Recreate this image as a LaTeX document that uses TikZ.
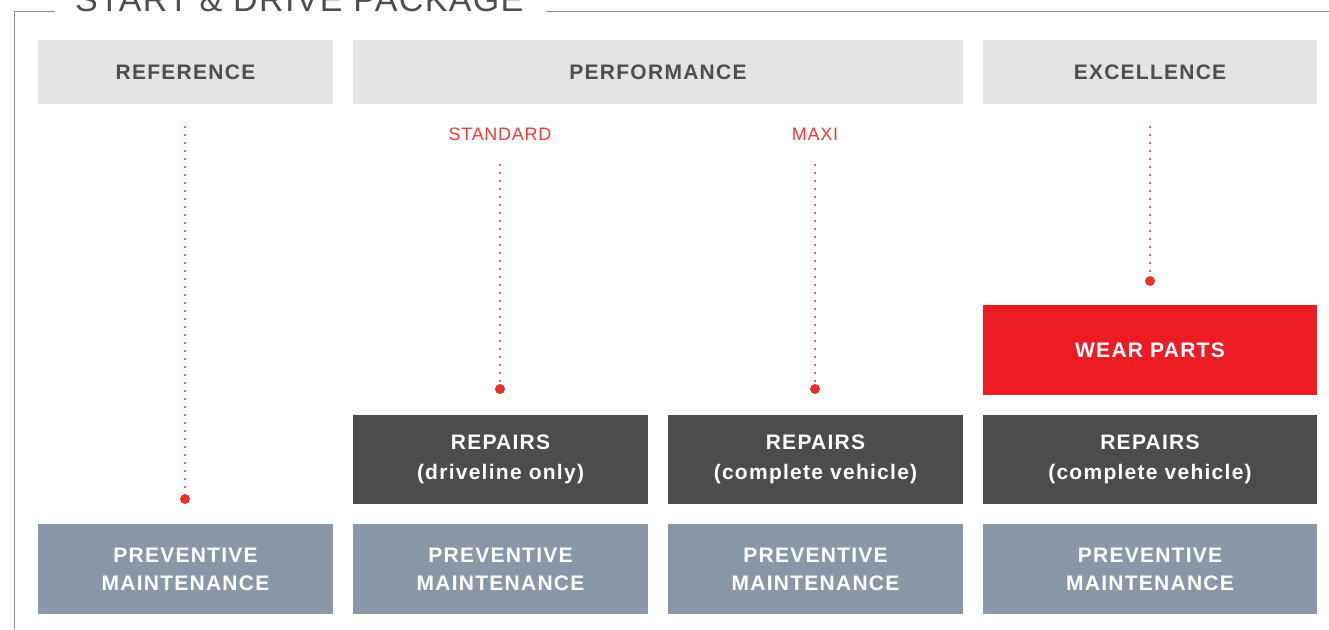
\documentclass[tikz,border=0pt]{standalone}
\usepackage{fontspec}
\setmainfont{Liberation Sans}
\newfontfamily\boxfont[LetterSpace=6]{Liberation Sans}
\newfontfamily\labelfont[LetterSpace=4]{Liberation Sans}
\newfontfamily\titlefont[LetterSpace=4]{Liberation Sans}

\definecolor{headgray}{HTML}{E3E4E6}
\definecolor{headtext}{HTML}{4D4E50}
\definecolor{wearred}{HTML}{ED1C24}
\definecolor{labelred}{HTML}{EE3B39}
\definecolor{dotred}{HTML}{E8312A}
\definecolor{repairgray}{HTML}{4B4C4E}
\definecolor{prevblue}{HTML}{8A97A8}
\definecolor{framegray}{HTML}{8C8C8C}

\tikzset{
	head/.style = {fill=headgray, minimum height=64pt, inner sep=0pt, text=headtext,
		font=\boxfont\bfseries\fontsize{21}{25}\selectfont},
	prevbox/.style = {fill=prevblue, minimum width=295pt, minimum height=90pt, inner sep=0pt,
		text=white, align=center, font=\boxfont\bfseries\fontsize{21}{28}\selectfont},
	repbox/.style = {fill=repairgray, minimum width=295pt, minimum height=89pt, inner sep=0pt,
		text=white, align=center, font=\boxfont\bfseries\fontsize{21}{30}\selectfont},
	wearbox/.style = {fill=wearred, minimum width=334pt, minimum height=90pt, inner sep=0pt,
		text=white, font=\boxfont\bfseries\fontsize{21}{25}\selectfont},
	optlabel/.style = {text=labelred, inner sep=0pt, font=\labelfont\fontsize{18}{22}\selectfont},
	enddot/.style = {circle, fill=dotred, minimum size=10pt, inner sep=0pt},
	dotline/.style = {dotred, line width=2.2pt, line cap=round, dash pattern=on 0pt off 8pt}
}

\begin{document}
\begin{tikzpicture}[x=1pt, y=-1pt]
	\useasboundingbox (0,0) rectangle (1329,629);
	\clip (0,0) rectangle (1329,629);

	% frame and title
	\node[anchor=base west, inner sep=0pt, text=headtext,
		font=\titlefont\fontsize{34}{40}\selectfont] (title) at (75,11) {START \& DRIVE PACKAGE};
	\draw[framegray, line width=1.2pt] (14.5,629) -- (14.5,11.5) -- (55,11.5);
	\draw[framegray, line width=1.2pt] (546,11.5) -- (1329,11.5);

	% headers
	\node[head, minimum width=295pt] (reference) at (185.5,72) {REFERENCE};
	\node[head, minimum width=610pt] (performance) at (658,72) {PERFORMANCE};
	\node[head, minimum width=334pt] (excellence) at (1150,72) {EXCELLENCE};

	\node[optlabel] (standard) at (500,134) {STANDARD};
	\node[optlabel] (maxi) at (815,134) {MAXI};

	% boxes
	\node[wearbox] (wear) at (1150,350) {WEAR PARTS};

	\node[repbox] (repstd) at (500.5,459.5) {REPAIRS\\(driveline only)};
	\node[repbox] (repmaxi) at (815.5,459.5) {REPAIRS\\(complete vehicle)};
	\node[repbox, minimum width=334pt] (repexc) at (1150,459.5) {REPAIRS\\(complete vehicle)};

	\node[prevbox] (prevref) at (185.5,569) {PREVENTIVE\\MAINTENANCE};
	\node[prevbox] (prevstd) at (500.5,569) {PREVENTIVE\\MAINTENANCE};
	\node[prevbox] (prevmaxi) at (815.5,569) {PREVENTIVE\\MAINTENANCE};
	\node[prevbox, minimum width=334pt] (prevexc) at (1150,569) {PREVENTIVE\\MAINTENANCE};

	% dotted leaders
	\coordinate (reftop) at (185,127);
	\coordinate (stdtop) at (500,165);
	\coordinate (maxitop) at (815,165);
	\coordinate (exctop) at (1150,127);
	\node[enddot] (refdot) at (185,499) {};
	\node[enddot] (stddot) at (500,389) {};
	\node[enddot] (maxidot) at (815,389) {};
	\node[enddot] (excdot) at (1150,281) {};

	\draw[dotline] (reftop) -- (refdot.center);
	\draw[dotline] (stdtop) -- (stddot.center);
	\draw[dotline] (maxitop) -- (maxidot.center);
	\draw[dotline] (exctop) -- (excdot.center);
\end{tikzpicture}
\end{document}
